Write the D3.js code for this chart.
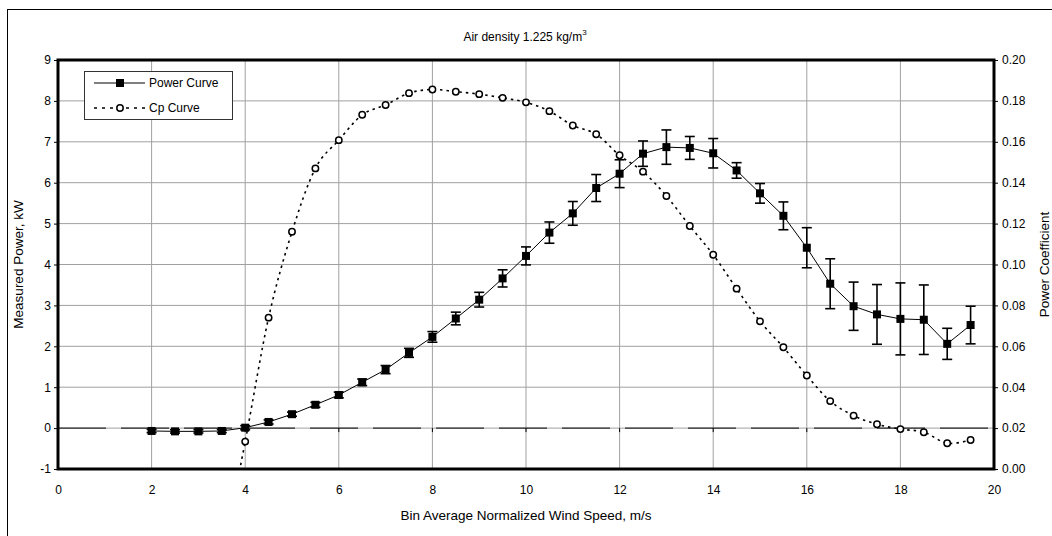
<!DOCTYPE html>
<html>
<head>
<meta charset="utf-8">
<script src="https://cdn.jsdelivr.net/npm/d3@7"></script>
<style>
  body { margin: 0; background: #fff; }
  text { font-family: "Liberation Sans", Arial, sans-serif; fill: #000; }
</style>
</head>
<body>
<script>
// wind speed bins, m/s
const windSpeed = [2, 2.5, 3, 3.5, 4, 4.5, 5, 5.5, 6, 6.5, 7, 7.5, 8, 8.5, 9, 9.5, 10, 10.5,
  11, 11.5, 12, 12.5, 13, 13.5, 14, 14.5, 15, 15.5, 16, 16.5, 17, 17.5, 18, 18.5, 19, 19.5];
// measured power, kW
const power = [-0.07, -0.08, -0.08, -0.07, 0.01, 0.15, 0.34, 0.57, 0.81, 1.12, 1.43, 1.84, 2.23, 2.68,
  3.14, 3.66, 4.21, 4.78, 5.25, 5.87, 6.22, 6.71, 6.87, 6.85, 6.72, 6.30, 5.74, 5.19, 4.41, 3.53,
  2.98, 2.78, 2.67, 2.65, 2.06, 2.52];
// error bar half-heights, kW
const powerErr = [0.04, 0.04, 0.04, 0.04, 0.05, 0.05, 0.05, 0.06, 0.07, 0.08, 0.1, 0.11, 0.13, 0.155,
  0.18, 0.21, 0.22, 0.26, 0.29, 0.33, 0.34, 0.31, 0.42, 0.28, 0.36, 0.19, 0.24, 0.34, 0.49, 0.61,
  0.59, 0.73, 0.88, 0.85, 0.38, 0.46];
// power coefficient (3.5 m/s point falls below the axis and is clipped)
const cpSpeed = [3.5, 4, 4.5, 5, 5.5, 6, 6.5, 7, 7.5, 8, 8.5, 9, 9.5, 10, 10.5, 11, 11.5, 12,
  12.5, 13, 13.5, 14, 14.5, 15, 15.5, 16, 16.5, 17, 17.5, 18, 18.5, 19, 19.5];
const cp = [-0.045, 0.0134, 0.074, 0.116, 0.147, 0.1608, 0.1732, 0.178, 0.1838, 0.1856, 0.1845,
  0.1833, 0.1815, 0.1793, 0.175, 0.168, 0.1637, 0.1534, 0.1454, 0.1335, 0.1188, 0.1048, 0.0882,
  0.0722, 0.0595, 0.0457, 0.0332, 0.0261, 0.0219, 0.0195, 0.018, 0.0126, 0.0142];

const xTicks = d3.range(0, 21, 2);
const yTicks = d3.range(-1, 10, 1);
const cpTicks = d3.range(0, 0.201, 0.02);

const width = 1052, height = 536;
const plotL = 58, plotR = 994, plotT = 60, plotB = 469;

const svg = d3.select("body").append("svg")
  .attr("width", width)
  .attr("height", height);

// outer chart border (runs off the right and bottom edges)
svg.append("rect")
  .attr("x", 7.5).attr("y", 9.5)
  .attr("width", 1060).attr("height", 540)
  .attr("fill", "none").attr("stroke", "#000").attr("stroke-width", 1);

const x = d3.scaleLinear().domain([0, 20]).range([plotL, plotR]);
const y = d3.scaleLinear().domain([-1, 9]).range([plotB, plotT]);
const y2 = d3.scaleLinear().domain([0, 0.2]).range([plotB, plotT]);

// grid
svg.append("g").selectAll("line")
  .data(xTicks.slice(1, -1))
  .enter().append("line")
  .attr("x1", d => x(d)).attr("x2", d => x(d))
  .attr("y1", plotT).attr("y2", plotB)
  .attr("stroke", "#a0a0a0").attr("stroke-width", 1);

svg.append("g").selectAll("line")
  .data(yTicks.slice(1, -1))
  .enter().append("line")
  .attr("x1", plotL).attr("x2", plotR)
  .attr("y1", d => y(d)).attr("y2", d => y(d))
  .attr("stroke", "#a0a0a0").attr("stroke-width", 1);

// zero power line, dashed, with small ticks
svg.append("line")
  .attr("x1", plotL).attr("x2", plotR)
  .attr("y1", y(0)).attr("y2", y(0))
  .attr("stroke", "#000").attr("stroke-width", 1)
  .attr("stroke-dasharray", "48,15");
svg.append("g").selectAll("line")
  .data(xTicks.slice(1, -1))
  .enter().append("line")
  .attr("x1", d => x(d)).attr("x2", d => x(d))
  .attr("y1", y(0)).attr("y2", y(0) + 4)
  .attr("stroke", "#000");

// axes
const yAxis = svg.append("g")
  .attr("transform", `translate(${plotL},0)`)
  .call(d3.axisLeft(y).tickValues(yTicks).tickFormat(d => String(d)).tickSize(4).tickPadding(3));
const yAxis2 = svg.append("g")
  .attr("transform", `translate(${plotR},0)`)
  .call(d3.axisRight(y2).tickValues(cpTicks).tickFormat(d3.format(".2f")).tickSize(4).tickPadding(4));
const xAxis = svg.append("g")
  .attr("transform", `translate(0,${plotB})`)
  .call(d3.axisBottom(x).tickValues(xTicks).tickSize(0).tickPadding(16));

[yAxis, yAxis2, xAxis].forEach(a => {
  a.select(".domain").remove();
  a.selectAll("text").attr("font-size", 12).attr("font-family", "Liberation Sans, Arial, sans-serif");
  a.selectAll(".tick line").attr("stroke", "#000");
});

// clip for series
svg.append("clipPath").attr("id", "plot")
  .append("rect").attr("x", plotL).attr("y", plotT)
  .attr("width", plotR - plotL).attr("height", plotB - plotT);

const cpData = cpSpeed.map((s, i) => ({ s, v: cp[i] }));
const pData = windSpeed.map((s, i) => ({ s, v: power[i], e: powerErr[i] }));

// Cp curve
svg.append("path")
  .datum(cpData)
  .attr("clip-path", "url(#plot)")
  .attr("fill", "none")
  .attr("stroke", "#000")
  .attr("stroke-width", 1.6)
  .attr("stroke-dasharray", "2.5,4")
  .attr("d", d3.line().x(d => x(d.s)).y(d => y2(d.v)).curve(d3.curveCardinal.tension(0)));

svg.append("g").selectAll("circle")
  .data(cpData.filter(d => d.v >= 0))
  .enter().append("circle")
  .attr("cx", d => x(d.s)).attr("cy", d => y2(d.v))
  .attr("r", 3.2)
  .attr("fill", "#fff").attr("stroke", "#000").attr("stroke-width", 1.5);

// power curve
svg.append("path")
  .datum(pData)
  .attr("fill", "none")
  .attr("stroke", "#000")
  .attr("stroke-width", 1)
  .attr("d", d3.line().x(d => x(d.s)).y(d => y(d.v)));

const bars = svg.append("g").selectAll("g")
  .data(pData)
  .enter().append("g")
  .attr("stroke", "#000").attr("stroke-width", 1.6);
bars.append("line")
  .attr("x1", d => x(d.s)).attr("x2", d => x(d.s))
  .attr("y1", d => y(d.v - d.e)).attr("y2", d => y(d.v + d.e));
bars.append("line")
  .attr("x1", d => x(d.s) - 5).attr("x2", d => x(d.s) + 5)
  .attr("y1", d => y(d.v - d.e)).attr("y2", d => y(d.v - d.e));
bars.append("line")
  .attr("x1", d => x(d.s) - 5).attr("x2", d => x(d.s) + 5)
  .attr("y1", d => y(d.v + d.e)).attr("y2", d => y(d.v + d.e));

svg.append("g").selectAll("rect")
  .data(pData)
  .enter().append("rect")
  .attr("x", d => x(d.s) - 4).attr("y", d => y(d.v) - 4)
  .attr("width", 8).attr("height", 8)
  .attr("fill", "#000");

// plot frame
svg.append("rect")
  .attr("x", plotL).attr("y", plotT)
  .attr("width", plotR - plotL).attr("height", plotB - plotT)
  .attr("fill", "none").attr("stroke", "#000").attr("stroke-width", 3);

// title
const title = svg.append("text")
  .attr("x", 525).attr("y", 41)
  .attr("text-anchor", "middle")
  .attr("font-size", 12);
title.append("tspan").text("Air density 1.225 kg/m");
title.append("tspan").attr("font-size", 8).attr("dy", -6).text("3");

// axis titles
svg.append("text")
  .attr("x", (plotL + plotR) / 2).attr("y", 520)
  .attr("text-anchor", "middle")
  .attr("font-size", 13.5)
  .text("Bin Average Normalized Wind Speed, m/s");

svg.append("text")
  .attr("transform", `translate(23,${(plotT + plotB) / 2}) rotate(-90)`)
  .attr("text-anchor", "middle")
  .attr("font-size", 13.5)
  .text("Measured Power, kW");

svg.append("text")
  .attr("transform", `translate(1049,${(plotT + plotB) / 2}) rotate(-90)`)
  .attr("text-anchor", "middle")
  .attr("font-size", 13.5)
  .text("Power Coefficient");

// legend
const lg = svg.append("g");
lg.append("rect")
  .attr("x", 84.5).attr("y", 71.5).attr("width", 148).attr("height", 48)
  .attr("fill", "#fff").attr("stroke", "#333").attr("stroke-width", 1);
lg.append("line")
  .attr("x1", 94).attr("x2", 145).attr("y1", 83).attr("y2", 83)
  .attr("stroke", "#000");
lg.append("rect")
  .attr("x", 116).attr("y", 79).attr("width", 8).attr("height", 8).attr("fill", "#000");
lg.append("text").attr("x", 149).attr("y", 87).attr("font-size", 12).text("Power Curve");
lg.append("line")
  .attr("x1", 94).attr("x2", 145).attr("y1", 108).attr("y2", 108)
  .attr("stroke", "#000").attr("stroke-width", 1.6).attr("stroke-dasharray", "3,5");
lg.append("circle")
  .attr("cx", 120).attr("cy", 108).attr("r", 3.2)
  .attr("fill", "#fff").attr("stroke", "#000").attr("stroke-width", 1.5);
lg.append("text").attr("x", 149).attr("y", 112).attr("font-size", 12).text("Cp Curve");
</script>
</body>
</html>
